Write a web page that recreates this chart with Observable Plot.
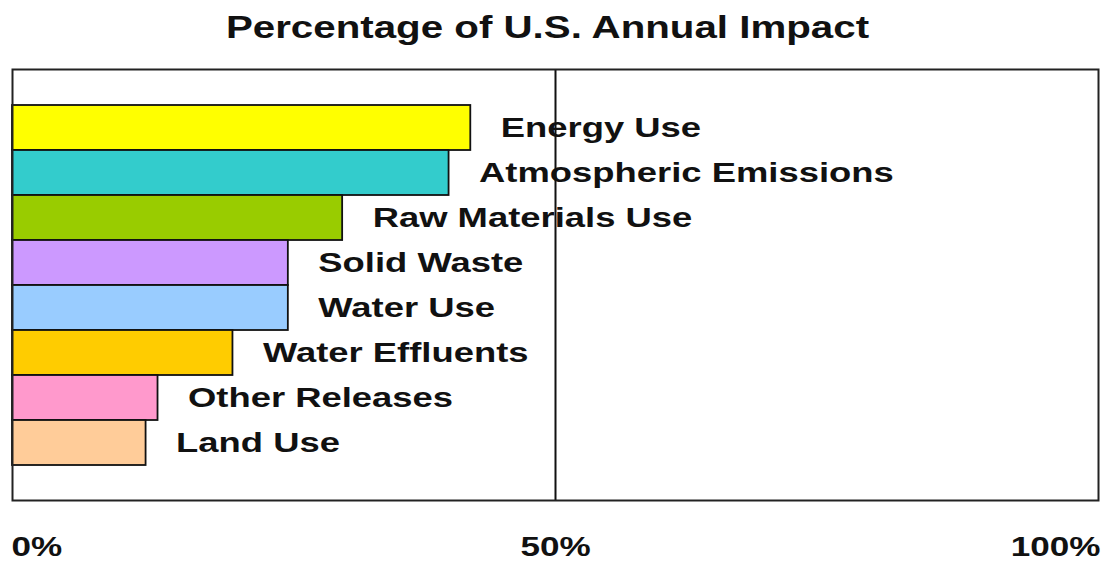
<!DOCTYPE html>
<html>
<head>
<meta charset="utf-8">
<script src="https://cdn.jsdelivr.net/npm/d3@7"></script>
<script src="https://cdn.jsdelivr.net/npm/@observablehq/plot@0.6"></script>
<style>
  body { margin: 0; background: #fff; }
  #chart svg { display: block; }
</style>
</head>
<body>
<div id="chart"></div>
<script>
// Share of total U.S. annual impact by category (percent)
const categories = ["Energy Use", "Atmospheric Emissions", "Raw Materials Use", "Solid Waste", "Water Use", "Water Effluents", "Other Releases", "Land Use"];
const shares = [42.2, 40.2, 30.4, 25.4, 25.4, 20.3, 13.4, 12.3];
const colors = ["#ffff00", "#33cccc", "#99cc00", "#cc99ff", "#99ccff", "#ffcc00", "#ff99cc", "#ffcc99"];
const tickValues = [0, 50, 100];
const tickLabels = ["0%", "50%", "100%"];
const title = "Percentage of U.S. Annual Impact";

const rows = categories.map((category, i) => ({category, share: shares[i]}));
const ticks = tickValues.map((value, i) => ({value, label: tickLabels[i]}));
const tickAnchors = ["start", "middle", "end"];
const tickNudge = [-1, 0, 2];

const chart = Plot.plot({
  width: 1111,
  height: 561,
  marginTop: 69,
  marginBottom: 61,
  marginLeft: 12,
  marginRight: 13,
  style: {fontFamily: "'Liberation Sans', Arial, sans-serif", background: "#fff", color: "#111"},
  x: {domain: [0, 100], axis: null},
  y: {domain: categories, axis: null, paddingInner: 0, paddingOuter: 0.76},
  color: {domain: categories, range: colors},
  marks: [
    Plot.barX(rows, {x: "share", y: "category", fill: "category", stroke: "#111", strokeWidth: 1.8}),
    Plot.ruleX([50], {stroke: "#111", strokeWidth: 2}),
    Plot.frame({stroke: "#222", strokeWidth: 2}),
    Plot.text(rows, {
      x: "share", y: "category", text: "category",
      textAnchor: "start", dx: 30,
      fontSize: 28, fontWeight: "bold", fill: "#111"
    }),
    ...ticks.map((t, i) => Plot.text([t], {
      x: "value", text: "label",
      frameAnchor: "bottom", lineAnchor: "middle", dy: 47, dx: tickNudge[i],
      textAnchor: tickAnchors[i],
      fontSize: 27, fontWeight: "bold", fill: "#111"
    })),
    Plot.text([title], {
      frameAnchor: "top", lineAnchor: "middle", dy: -41, dx: -8,
      fontSize: 31, fontWeight: "bold", fill: "#111"
    })
  ]
});

// The lettering is set wide: stretch every text horizontally about its anchor.
chart.querySelectorAll('g[aria-label="text"] text').forEach(t => {
  t.setAttribute("transform", (t.getAttribute("transform") || "") + " scale(1.3,1)");
});

document.getElementById("chart").appendChild(chart);
</script>
</body>
</html>
